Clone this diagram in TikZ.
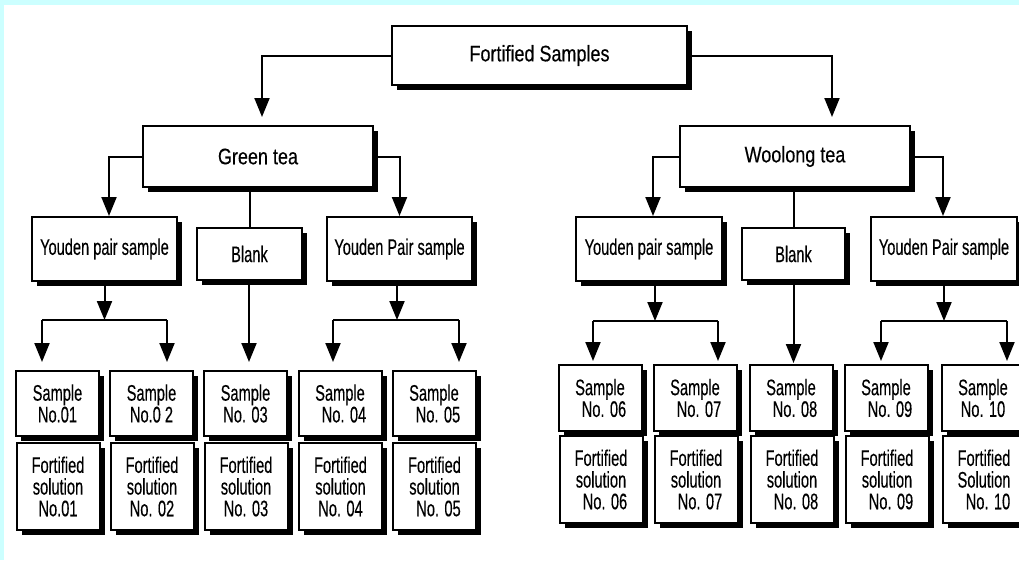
\documentclass[tikz,border=0pt]{standalone}
\usepackage{fontspec}
\setmainfont{Liberation Sans}[FakeStretch=0.8, FakeBold=0.3]
\newfontfamily\narrowsans{Liberation Sans}[FakeStretch=0.65, FakeBold=0.3]
\usepackage{tikz}
\usetikzlibrary{arrows.meta,shadows,calc}
\definecolor{pagecyan}{RGB}{204,255,255}
\newcommand{\nudge}{\hspace*{8pt}}

\tikzset{
  box/.style={draw, line width=2pt, fill=white, inner sep=0pt, align=center,
    drop shadow={shadow xshift=5pt, shadow yshift=-5pt, fill=black, opacity=1}},
  headbox/.style={box, font=\fontsize{22.5}{24}\selectfont},
  kindbox/.style={box, minimum height=64pt, font=\narrowsans\fontsize{22.5}{24}\selectfont},
  samplebox/.style={box, minimum width=83pt, font=\narrowsans\fontsize{22.5}{21.7}\selectfont},
  wire/.style={line width=2pt},
  flow/.style={wire, -{Triangle[length=19pt,width=15pt]}}
}

\begin{document}
\begin{tikzpicture}[x=1pt,y=-1pt]
\useasboundingbox (0,0) rectangle (1019,560);
\clip (0,0) rectangle (1019,560);
\fill[pagecyan] (0,0) rectangle (1019,560);
\fill[white] (4,5) rectangle (1019,560);

% top and tea boxes
\node[headbox, minimum width=295pt, minimum height=59pt] (fort) at (539.5,55.5) {Fortified Samples};
\node[headbox, minimum width=230pt, minimum height=61pt] (green) at (258,156.5) {Green tea};
\node[headbox, minimum width=230pt, minimum height=61pt] (woolong) at (795,156.5) {Woolong tea};

% second level
\node[kindbox, minimum width=145pt] (gpair) at (104.5,249) {Youden pair sample};
\node[kindbox, minimum width=105pt, minimum height=52pt] (gblank) at (249.5,254) {Blank};
\node[kindbox, minimum width=145pt] (gPair) at (399.5,249) {Youden Pair sample};
\node[kindbox, minimum width=146pt] (wpair) at (649,249) {Youden pair sample};
\node[kindbox, minimum width=103pt, minimum height=52pt] (wblank) at (793.5,254) {Blank};
\node[kindbox, minimum width=146pt] (wPair) at (944,249) {Youden Pair sample};

% samples, green tea
\node[samplebox, minimum height=65pt] (s1) at (57.5,403.5) {Sample\\No.01};
\node[samplebox, minimum height=65pt] (s2) at (151.5,403.5) {Sample\\No.0 2};
\node[samplebox, minimum height=65pt] (s3) at (245.5,403.5) {Sample\\No. 03};
\node[samplebox, minimum height=65pt] (s4) at (340,403.5) {Sample\\\nudge No. 04};
\node[samplebox, minimum height=65pt] (s5) at (434,403.5) {Sample\\\nudge No. 05};
\node[samplebox, minimum height=87pt] (f1) at (58,486.5) {Fortified\\solution\\No.01};
\node[samplebox, minimum height=87pt] (f2) at (152,486.5) {Fortified\\solution\\No. 02};
\node[samplebox, minimum height=87pt] (f3) at (246,486.5) {Fortified\\solution\\No. 03};
\node[samplebox, minimum height=87pt] (f4) at (340.5,486.5) {Fortified\\solution\\No. 04};
\node[samplebox, minimum height=87pt] (f5) at (434.5,486.5) {Fortified\\solution\\\nudge No. 05};

% samples, woolong tea
\node[samplebox, minimum height=66pt] (s6) at (600,398) {Sample\\\nudge No. 06};
\node[samplebox, minimum height=66pt] (s7) at (695,398) {Sample\\\nudge No. 07};
\node[samplebox, minimum height=66pt] (s8) at (791,398) {Sample\\\nudge No. 08};
\node[samplebox, minimum height=66pt] (s9) at (886,398) {Sample\\\nudge No. 09};
\node[samplebox, minimum height=66pt] (s10) at (983,398) {Sample\\No. 10};
\node[samplebox, minimum height=87pt] (f6) at (601,479.5) {Fortified\\solution\\\nudge No. 06};
\node[samplebox, minimum height=87pt] (f7) at (696,479.5) {Fortified\\solution\\\nudge No. 07};
\node[samplebox, minimum height=87pt] (f8) at (792,479.5) {Fortified\\solution\\\nudge No. 08};
\node[samplebox, minimum height=87pt] (f9) at (887,479.5) {Fortified\\solution\\\nudge No. 09};
\node[samplebox, minimum height=87pt] (f10) at (984,479.5) {Fortified\\Solution\\\nudge No. 10};

% split points
\coordinate (gl1) at (42,320);
\coordinate (gr1) at (167,320);
\coordinate (gl2) at (333,320);
\coordinate (gr2) at (459,320);
\coordinate (wl1) at (593,321);
\coordinate (wr1) at (718,321);
\coordinate (wl2) at (881,321);
\coordinate (wr2) at (1007,321);

% connectors
\draw[flow, shorten >=8pt] (fort.west) -| ([xshift=4pt]green.north);
\draw[flow, shorten >=8pt] (fort.east) -| ([xshift=37pt]woolong.north);

\draw[flow] (green.west) -| ([xshift=4.5pt]gpair.north);
\draw[flow] (green.east) -| (gPair.north);
\draw[wire] (green.south -| gblank.north) -- (gblank.north);
\draw[flow] (woolong.west) -| ([xshift=4pt]wpair.north);
\draw[flow] (woolong.east) -| ([xshift=-1pt]wPair.north);
\draw[wire] (woolong.south -| wblank.north) -- (wblank.north);

\draw[flow] (gpair.south) -- (gpair.south |- gl1);
\draw[wire] (gl1) -- (gr1);
\draw[flow, shorten >=8pt] (gl1) -- (gl1 |- s1.north);
\draw[flow, shorten >=8pt] (gr1) -- (gr1 |- s2.north);
\draw[flow, shorten >=8pt] ([xshift=-0.5pt]gblank.south) -- ([xshift=-0.5pt]gblank.south |- s3.north);
\draw[flow] ([xshift=-2.5pt]gPair.south) -- ([xshift=-2.5pt]gPair.south |- gl2);
\draw[wire] (gl2) -- (gr2);
\draw[flow, shorten >=8pt] (gl2) -- (gl2 |- s4.north);
\draw[flow, shorten >=8pt] (gr2) -- (gr2 |- s5.north);

\draw[flow] ([xshift=6pt]wpair.south) -- ([xshift=6pt]wpair.south |- wl1);
\draw[wire] (wl1) -- (wr1);
\draw[flow, shorten >=3pt] (wl1) -- (wl1 |- s6.north);
\draw[flow, shorten >=3pt] (wr1) -- (wr1 |- s7.north);
\draw[flow, shorten >=1pt] (wblank.south) -- (wblank.south |- s8.north);
\draw[flow] (wPair.south) -- (wPair.south |- wl2);
\draw[wire] (wl2) -- (wr2);
\draw[flow, shorten >=3pt] (wl2) -- (wl2 |- s9.north);
\draw[flow, shorten >=3pt] (wr2) -- (wr2 |- s10.north);
\end{tikzpicture}
\end{document}
